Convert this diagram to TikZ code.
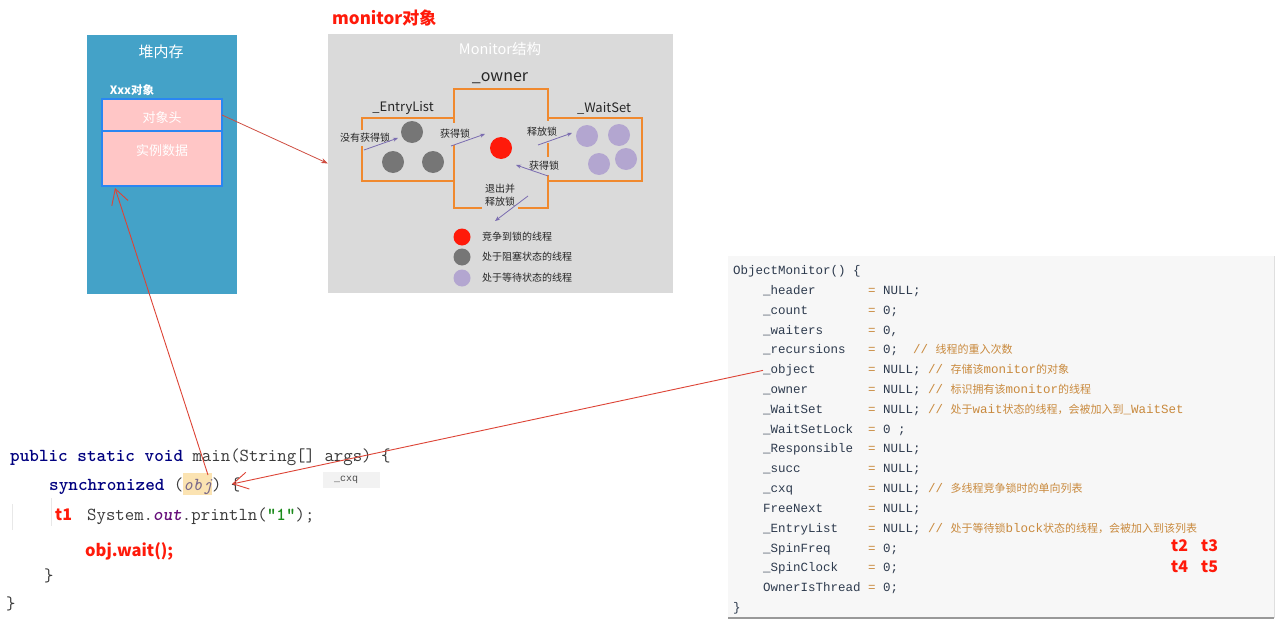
\documentclass[tikz,border=0pt]{standalone}
\usepackage{fontspec}
\usetikzlibrary{arrows.meta,calc}
\newfontfamily\cjk{Noto Sans CJK SC}
\newfontfamily\rmono{Liberation Mono}
\definecolor{heapc}{HTML}{44A2C8}
\definecolor{pinkc}{HTML}{FFC6C6}
\definecolor{objblue}{HTML}{2A86F2}
\definecolor{mongray}{HTML}{DADADA}
\definecolor{orangec}{HTML}{F0892E}
\definecolor{dgray}{HTML}{767676}
\definecolor{redc}{HTML}{FF1A0A}
\definecolor{purpc}{HTML}{B3A6D0}
\definecolor{parrowc}{HTML}{7A6CB0}
\definecolor{arrowred}{HTML}{DD4436}
\definecolor{code1}{HTML}{2E3B4E}
\definecolor{cmt}{HTML}{C98A3E}
\definecolor{navyc}{HTML}{000080}
\definecolor{outp}{HTML}{660E7A}
\definecolor{strg}{HTML}{1A8A1A}
\definecolor{codebg}{HTML}{F7F7F7}
\definecolor{hlc}{HTML}{FBE3B2}
\definecolor{objit}{HTML}{7A6A8A}
\definecolor{plain}{HTML}{3A3A3A}
\begin{document}
\begin{tikzpicture}[x=1pt,y=-1pt,
  box/.style={inner sep=0pt, outer sep=0pt},
  cjkt/.style={font=\cjk\fontsize{10}{12}\selectfont, text=black!85, fill=mongray, inner xsep=1.5pt, inner ysep=1.5pt},
  legt/.style={font=\cjk\fontsize{10}{12}\selectfont, text=black!85, anchor=west, inner sep=0pt},
  parrow/.style={draw=parrowc, line width=0.8pt, -{Stealth[length=5pt,width=4pt]}},
  redbarb/.style={draw=arrowred, line width=0.9pt, -{Straight Barb[length=15pt,width=17pt]}},
  orline/.style={draw=orangec, line width=2.4pt},
  dot/.style={circle, inner sep=0pt, minimum size=22pt},
  ldot/.style={circle, inner sep=0pt, minimum size=17pt},
  lcode/.style={font=\ttfamily\fontsize{18.3}{22}\selectfont, text=plain, anchor=base west, inner sep=0pt},
  rcode/.style={font=\rmono\fontsize{12.5}{15}\selectfont, text=code1, anchor=base west, inner sep=0pt},
  rcmt/.style={font=\rmono\fontsize{12.5}{15}\selectfont, text=cmt, anchor=base west, inner sep=0pt},
  redlab/.style={font=\cjk\bfseries\fontsize{16}{19}\selectfont, text=redc, anchor=base west, inner sep=0pt}
]
\useasboundingbox (0,0) rectangle (1284,634);
\fill[white] (0,0) rectangle (1284,634);

% ---------------- heap ----------------
\node[box, fill=heapc, minimum width=150pt, minimum height=259pt, anchor=north west] (heap) at (87,35) {};
\node[font=\cjk\fontsize{15}{18}\selectfont, text=white] (heapT) at (161,52) {堆内存};
\node[font=\cjk\bfseries\fontsize{11.5}{14}\selectfont, text=white] (xxx) at (132,90) {Xxx对象};
\node[box, fill=pinkc, draw=objblue, line width=2pt, minimum width=120pt, minimum height=32pt, anchor=north west] (hdr) at (102,99) {};
\node[box, fill=pinkc, draw=objblue, line width=2pt, minimum width=120pt, minimum height=55pt, anchor=north west] (data) at (102,131) {};
\node[font=\cjk\fontsize{13}{15}\selectfont, text=white] (hdrT) at (162,118) {对象头};
\node[font=\cjk\fontsize{13}{15}\selectfont, text=white] (dataT) at (162,151) {实例数据};

% ---------------- monitor ----------------
\node[font=\cjk\bfseries\fontsize{17}{20}\selectfont, text=redc, anchor=west, inner sep=0pt] (monT) at (332,18) {monitor对象};
\node[box, fill=mongray, minimum width=345pt, minimum height=259pt, anchor=north west] (mon) at (328,34) {};
\node[font=\cjk\fontsize{14.5}{17}\selectfont, text=white] (monS) at (500,49) {Monitor结构};
\node[font=\cjk\fontsize{16}{19}\selectfont, text=black!85] (ownerT) at (500,78) {\_owner};
\node[font=\cjk\fontsize{13}{15}\selectfont, text=black!85] (entryT) at (403,108) {\_EntryList};
\node[font=\cjk\fontsize{13}{15}\selectfont, text=black!85] (waitT) at (604,108) {\_WaitSet};

\draw[orline] (454,118) -- (362,118) -- (362,181) -- (454,181);
\draw[orline] (548,118) -- (642,118) -- (642,181) -- (548,181);
\draw[orline] (482,208) -- (454,208) -- (454,89) -- (548,89) -- (548,208) -- (518,208);

% threads
\node[dot, fill=dgray] (e1) at (412,132) {};
\node[dot, fill=dgray] (e2) at (393,162) {};
\node[dot, fill=dgray] (e3) at (433,162) {};
\node[dot, fill=redc] (own) at (501,148) {};
\node[dot, fill=purpc] (w1) at (587,136) {};
\node[dot, fill=purpc] (w2) at (619,135) {};
\node[dot, fill=purpc] (w3) at (599,164) {};
\node[dot, fill=purpc] (w4) at (626,159) {};

% labels and arrows
\node[cjkt, inner ysep=3pt] (l1) at (365,138) {没有获得锁};
\coordinate (l1s) at (364,150); \coordinate (l1e) at (398,138);
\draw[parrow] (l1s) -- (l1e);
\node[cjkt, inner ysep=6pt] (l2) at (455,134) {获得锁};
\coordinate (l2s) at (451,146); \coordinate (l2e) at (485,134);
\draw[parrow] (l2s) -- (l2e);
\node[cjkt, inner ysep=6pt] (l3) at (542,132) {释放锁};
\coordinate (l3s) at (538,145); \coordinate (l3e) at (572,133);
\draw[parrow] (l3s) -- (l3e);
\node[cjkt, inner ysep=4pt] (l4) at (544,166) {获得锁};
\coordinate (l4s) at (548,176); \coordinate (l4e) at (516,165);
\draw[parrow] (l4s) -- (l4e);
\node[cjkt, align=center, font=\cjk\fontsize{10}{13}\selectfont] (l5) at (500,195) {退出并\\释放锁};
\coordinate (l5s) at (528,196); \coordinate (l5e) at (495,221);
\draw[parrow] (l5s) -- (l5e);

% legend
\node[ldot, fill=redc] (g1) at (462,237) {};
\node[legt] (g1t) at (482,237) {竞争到锁的线程};
\node[ldot, fill=dgray] (g2) at (462,257) {};
\node[legt] (g2t) at (482,257) {处于阻塞状态的线程};
\node[ldot, fill=purpc] (g3) at (462,278) {};
\node[legt] (g3t) at (482,278) {处于等待状态的线程};

% header -> monitor
\draw[draw=arrowred!85!gray, line width=0.8pt, -{Stealth[length=7pt,width=5pt]}] (hdr.east) -- (mon.west);

% ---------------- left code ----------------
\draw[gray!18, line width=0.8pt] (12,504) -- (12,530);
\draw[gray!18, line width=0.8pt] (51,498) -- (51,526);
\node[box, fill=hlc, minimum width=29pt, minimum height=22pt] (objhl) at (197.5,484) {};
\node[lcode] (c1) at (10,461) {{\bfseries\color{navyc}public static void} main(String[] args) \{};
\node[lcode] (c2) at (49,490) {{\bfseries\color{navyc}synchronized} ({\itshape\color{objit}obj}) \{};
\node[box, fill=gray!10, minimum width=57pt, minimum height=16pt] (cxqbox) at (351,480) {};
\node[font=\rmono\fontsize{10}{12}\selectfont, text=black!70] (cxqT) at (346,480) {\_cxq};
\node[redlab] (t1) at (55,520) {t1};
\node[lcode] (c3) at (87,520) {System.{\bfseries\itshape\color{outp}out}.println({\bfseries\color{strg}"1"});};
\node[redlab, font=\cjk\bfseries\fontsize{16.5}{19}\selectfont] (c4) at (85,556) {obj.wait();};
\node[lcode] (c5) at (44,581) {\}};
\node[lcode] (c6) at (6,609) {\}};

% ---------------- right code ----------------
\node[box, fill=codebg, minimum width=546pt, minimum height=362pt, anchor=north west] (codebox) at (728,256) {};
\draw[gray!80, line width=1.2pt] (codebox.south west) -- (codebox.south east);
\draw[gray!25, line width=0.6pt] (codebox.north east) -- (codebox.south east);

\node[rcode] (r0) at (733,274.5) {ObjectMonitor() \{};
\node[rcode] (r1) at (763,294.3) {\makebox[105pt][l]{\_header}{\color{cmt}=} NULL;};
\node[rcode] (r2) at (763,314.1) {\makebox[105pt][l]{\_count}{\color{cmt}=} 0;};
\node[rcode] (r3) at (763,334.0) {\makebox[105pt][l]{\_waiters}{\color{cmt}=} 0,};
\node[rcode] (r4) at (763,353.8) {\makebox[105pt][l]{\_recursions}{\color{cmt}=} 0;};
\node[rcmt] (k4) at (913,353.8) {// {\cjk\fontsize{11}{13}\selectfont 线程的重入次数}};
\node[rcode] (fobject) at (763,373.6) {\makebox[105pt][l]{\_object}{\color{cmt}=} NULL;};
\node[rcmt] (k5) at (928,373.6) {// {\cjk\fontsize{11}{13}\selectfont 存储该}monitor{\cjk\fontsize{11}{13}\selectfont 的对象}};
\node[rcode] (r6) at (763,393.4) {\makebox[105pt][l]{\_owner}{\color{cmt}=} NULL;};
\node[rcmt] (k6) at (928,393.4) {// {\cjk\fontsize{11}{13}\selectfont 标识拥有该}monitor{\cjk\fontsize{11}{13}\selectfont 的线程}};
\node[rcode] (r7) at (763,413.2) {\makebox[105pt][l]{\_WaitSet}{\color{cmt}=} NULL;};
\node[rcmt] (k7) at (928,413.2) {// {\cjk\fontsize{11}{13}\selectfont 处于}wait{\cjk\fontsize{11}{13}\selectfont 状态的线程，会被加入到}\_WaitSet};
\node[rcode] (r8) at (763,433.1) {\makebox[105pt][l]{\_WaitSetLock}{\color{cmt}=} 0 ;};
\node[rcode] (r9) at (763,452.9) {\makebox[105pt][l]{\_Responsible}{\color{cmt}=} NULL;};
\node[rcode] (r10) at (763,472.7) {\makebox[105pt][l]{\_succ}{\color{cmt}=} NULL;};
\node[rcode] (r11) at (763,492.5) {\makebox[105pt][l]{\_cxq}{\color{cmt}=} NULL;};
\node[rcmt] (k11) at (928,492.5) {// {\cjk\fontsize{11}{13}\selectfont 多线程竞争锁时的单向列表}};
\node[rcode] (r12) at (763,512.3) {\makebox[105pt][l]{FreeNext}{\color{cmt}=} NULL;};
\node[rcode] (r13) at (763,532.2) {\makebox[105pt][l]{\_EntryList}{\color{cmt}=} NULL;};
\node[rcmt] (k13) at (928,532.2) {// {\cjk\fontsize{11}{13}\selectfont 处于等待锁}block{\cjk\fontsize{11}{13}\selectfont 状态的线程，会被加入到该列表}};
\node[rcode] (r14) at (763,552.0) {\makebox[105pt][l]{\_SpinFreq}{\color{cmt}=} 0;};
\node[rcode] (r15) at (763,571.8) {\makebox[105pt][l]{\_SpinClock}{\color{cmt}=} 0;};
\node[rcode] (r16) at (763,591.6) {\makebox[105pt][l]{OwnerIsThread}{\color{cmt}=} 0;};
\node[rcode] (r17) at (733,611.4) {\}};

\node[redlab] (t2) at (1171,551) {t2};
\node[redlab] (t3) at (1201,551) {t3};
\node[redlab] (t4) at (1171,572) {t4};
\node[redlab] (t5) at (1201,572) {t5};

% ---------------- red connectors ----------------
\coordinate (mainpt) at (208,475);
\coordinate (objtipA) at (115,188);
\draw[redbarb] (mainpt) -- (objtipA);
\coordinate (objtip) at (232,484);
\draw[redbarb] (fobject.west) -- (objtip);
\end{tikzpicture}
\end{document}
